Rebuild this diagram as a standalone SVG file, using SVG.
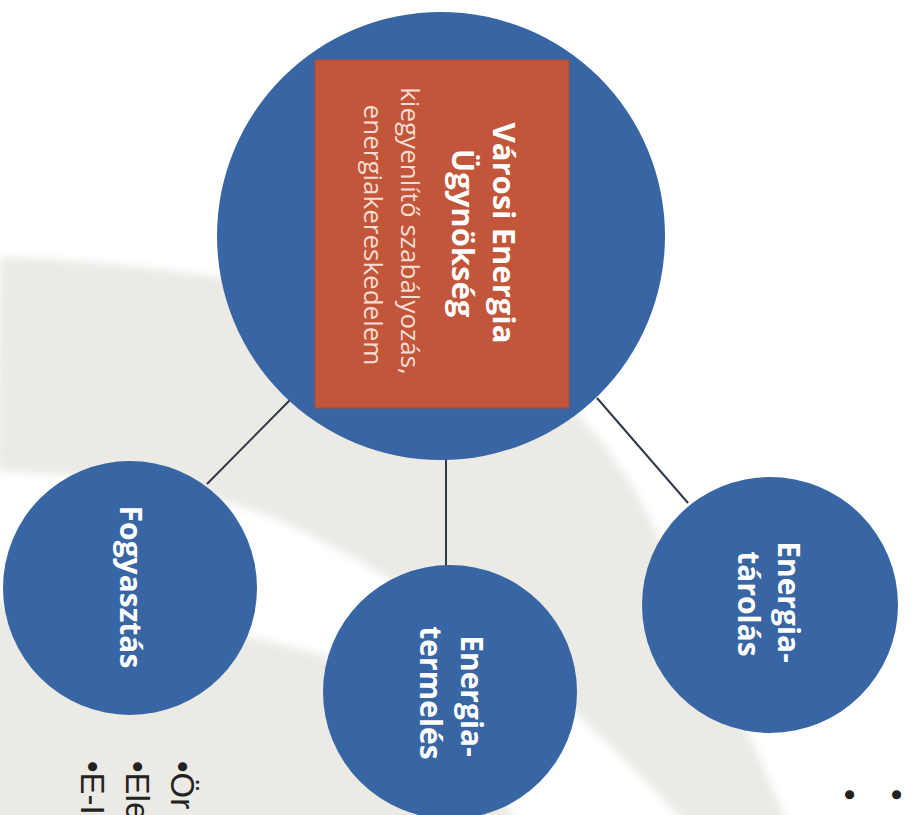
<svg xmlns="http://www.w3.org/2000/svg" width="915" height="815" viewBox="0 0 915 815">
  <defs>
    <filter id="soft" x="-5%" y="-5%" width="110%" height="110%">
      <feGaussianBlur stdDeviation="4"/>
    </filter>
    <style>
      .node { fill: #3865a3; }
      .lbl { font-family: "Open Sans", "Liberation Sans", sans-serif; font-weight: bold; font-size: 30px; fill: #ffffff; text-anchor: middle; }
      .title { font-family: "Open Sans", "Liberation Sans", sans-serif; font-weight: bold; font-size: 31px; fill: #ffffff; text-anchor: middle; }
      .sub { font-family: "Open Sans", "Liberation Sans", sans-serif; font-size: 26px; fill: #f6dcd2; text-anchor: middle; }
      .bul { font-family: "Liberation Sans", Arial, sans-serif; font-size: 33px; fill: #222222; }
      .conn { stroke: #2e3a48; stroke-width: 2; fill: none; }
    </style>
  </defs>

  <!-- background -->
  <rect x="0" y="0" width="915" height="815" fill="#ffffff"/>
  <g id="background" filter="url(#soft)">
    <path d="M0,257 C150,262 350,290 470,340 C560,380 620,450 660,540 C700,630 745,720 790,830 L-10,830 Z" fill="#ebeae5"/>
    <path d="M-10,470 C120,478 220,490 300,530 C420,590 560,680 690,830 L520,830 C470,730 400,675 330,657 C280,645 230,625 -10,600 Z" fill="#ffffff"/>
  </g>

  <!-- connectors -->
  <g id="connectors">
    <line class="conn" x1="290" y1="400" x2="207" y2="484"/>
    <line class="conn" x1="446" y1="455" x2="446" y2="566"/>
    <line class="conn" x1="597" y1="398" x2="688" y2="503"/>
  </g>

  <!-- main node -->
  <g id="varosi-energia-ugynokseg">
    <circle class="node" cx="441" cy="236" r="224"/>
    <rect x="315" y="60" width="254" height="348" fill="#c2563a" stroke="#a94a33" stroke-width="1"/>
    <text class="title" transform="translate(493,233) rotate(90)">Városi Energia</text>
    <text class="title" transform="translate(452,233) rotate(90)">Ügynökség</text>
    <text class="sub" transform="translate(401,231) rotate(90)">kiegyenlítő szabályozás,</text>
    <text class="sub" transform="translate(364,235) rotate(90)">energiakereskedelem</text>
  </g>

  <g id="fogyasztas">
    <circle class="node" cx="130" cy="588" r="127"/>
    <text class="lbl" transform="translate(120,587) rotate(90)">Fogyasztás</text>
  </g>

  <g id="energiatermeles">
    <circle class="node" cx="450" cy="692" r="127"/>
    <text class="lbl" transform="translate(461,696) rotate(90)">Energia-</text>
    <text class="lbl" transform="translate(420,693) rotate(90)">termelés</text>
  </g>

  <g id="energiatarolas">
    <circle class="node" cx="770" cy="605" r="128"/>
    <text class="lbl" transform="translate(778,602) rotate(90)">Energia-</text>
    <text class="lbl" transform="translate(738,604) rotate(90)">tárolás</text>
  </g>

  <!-- clipped bullet text -->
  <g id="bullets-left">
    <text class="bul" transform="translate(171,761) rotate(90)">•Ör</text>
    <text class="bul" transform="translate(126,761) rotate(90)">•Ele</text>
    <text class="bul" transform="translate(81,761) rotate(90)">•E-I</text>
  </g>
  <g id="bullets-right">
    <text class="bul" transform="translate(838,789) rotate(90)">•</text>
    <text class="bul" transform="translate(885,789) rotate(90)">•</text>
  </g>
</svg>
